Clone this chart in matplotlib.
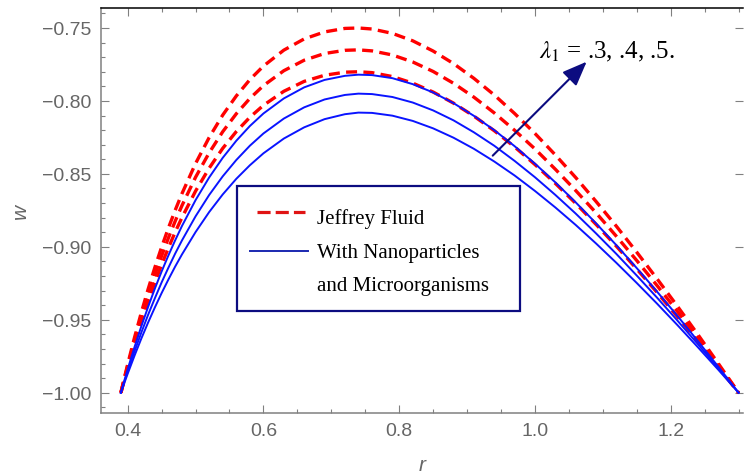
import matplotlib
matplotlib.use("Agg")
import matplotlib.pyplot as plt
from matplotlib.patches import Rectangle
from matplotlib.ticker import MultipleLocator, FuncFormatter

# ---------------- data ----------------
r = [0.39, 0.395, 0.40, 0.41, 0.42, 0.43, 0.44, 0.45, 0.46, 0.47, 0.48, 0.50, 0.52,
     0.54, 0.56, 0.58, 0.60, 0.63, 0.66, 0.69, 0.72, 0.74, 0.76, 0.79, 0.82, 0.85,
     0.88, 0.91, 0.94, 0.97, 1.00, 1.03, 1.06, 1.09, 1.12, 1.15, 1.18, 1.21, 1.24,
     1.27, 1.30]

# Jeffrey fluid, lambda1 = .3, .4, .5 (red dashed)
jeffrey_1 = [-1.0000, -0.9901, -0.9805, -0.9623, -0.9452, -0.9292, -0.9142, -0.9002,
             -0.8871, -0.8749, -0.8635, -0.8429, -0.8251, -0.8097, -0.7966, -0.7854,
             -0.7761, -0.7652, -0.7575, -0.7527, -0.7503, -0.7500, -0.7507, -0.7537,
             -0.7588, -0.7658, -0.7744, -0.7845, -0.7959, -0.8086, -0.8223, -0.8370,
             -0.8525, -0.8689, -0.8859, -0.9037, -0.9220, -0.9408, -0.9601, -0.9799,
             -1.0000]
jeffrey_2 = [-1.0000, -0.9907, -0.9817, -0.9645, -0.9485, -0.9334, -0.9194, -0.9062,
             -0.8939, -0.8824, -0.8717, -0.8523, -0.8356, -0.8211, -0.8088, -0.7983,
             -0.7895, -0.7793, -0.7721, -0.7675, -0.7653, -0.7650, -0.7657, -0.7685,
             -0.7733, -0.7798, -0.7879, -0.7974, -0.8082, -0.8201, -0.8329, -0.8468,
             -0.8614, -0.8767, -0.8928, -0.9094, -0.9266, -0.9443, -0.9625, -0.9811,
             -1.0000]
jeffrey_3 = [-1.0000, -0.9913, -0.9828, -0.9668, -0.9518, -0.9377, -0.9245, -0.9122,
             -0.9007, -0.8899, -0.8799, -0.8618, -0.8461, -0.8325, -0.8210, -0.8112,
             -0.8030, -0.7934, -0.7866, -0.7824, -0.7803, -0.7800, -0.7806, -0.7833,
             -0.7878, -0.7939, -0.8015, -0.8104, -0.8204, -0.8315, -0.8436, -0.8565,
             -0.8702, -0.8846, -0.8996, -0.9152, -0.9313, -0.9479, -0.9649, -0.9823,
             -1.0000]

# With nanoparticles and microorganisms (blue solid)
nano_1 = [-1.0000, -0.9918, -0.9839, -0.9688, -0.9546, -0.9413, -0.9287, -0.9169,
          -0.9059, -0.8955, -0.8857, -0.8680, -0.8525, -0.8390, -0.8273, -0.8172,
          -0.8086, -0.7983, -0.7907, -0.7856, -0.7828, -0.7820, -0.7823, -0.7844,
          -0.7885, -0.7942, -0.8015, -0.8102, -0.8200, -0.8310, -0.8430, -0.8558,
          -0.8695, -0.8839, -0.8989, -0.9146, -0.9308, -0.9474, -0.9646, -0.9821,
          -1.0000]
nano_2 = [-1.0000, -0.9926, -0.9855, -0.9718, -0.9589, -0.9467, -0.9353, -0.9244,
          -0.9143, -0.9046, -0.8956, -0.8791, -0.8645, -0.8517, -0.8405, -0.8307,
          -0.8223, -0.8121, -0.8044, -0.7990, -0.7959, -0.7950, -0.7953, -0.7973,
          -0.8011, -0.8065, -0.8133, -0.8215, -0.8307, -0.8411, -0.8523, -0.8644,
          -0.8772, -0.8908, -0.9049, -0.9197, -0.9349, -0.9506, -0.9667, -0.9832,
          -1.0000]
nano_3 = [-1.0000, -0.9934, -0.9870, -0.9747, -0.9630, -0.9520, -0.9416, -0.9317,
          -0.9224, -0.9135, -0.9052, -0.8899, -0.8762, -0.8641, -0.8534, -0.8441,
          -0.8359, -0.8258, -0.8181, -0.8125, -0.8091, -0.8080, -0.8082, -0.8101,
          -0.8137, -0.8188, -0.8252, -0.8328, -0.8415, -0.8511, -0.8617, -0.8730,
          -0.8850, -0.8977, -0.9110, -0.9248, -0.9390, -0.9537, -0.9688, -0.9842,
          -1.0000]

legend_labels = ["Jeffrey Fluid", "With Nanoparticles", "and Microorganisms"]
annotation_text = r"$\lambda_1$ = .3, .4, .5."
x_label = "r"
y_label = "w"

# ---------------- styling ----------------
RED = "#ff0000"
BLUE = "#0a14ff"
NAVY = "#0c0c80"
GRAY = "#808080"
LABEL_GRAY = "#666666"

plt.rcParams["mathtext.fontset"] = "stix"

fig = plt.figure(figsize=(7.44, 4.77), dpi=100)
ax = fig.add_axes([101 / 744, (477 - 413.7) / 477, 642 / 744, 404.7 / 477])

for y in (jeffrey_1, jeffrey_2, jeffrey_3):
    ax.plot(r, y, color=RED, lw=2.4, linestyle=(0, (3.3, 1.9)),
            dash_capstyle="butt", dash_joinstyle="round")
for y in (nano_1, nano_2, nano_3):
    ax.plot(r, y, color=BLUE, lw=1.4)

ax.set_xlim(0.3607, 1.3065)
ax.set_ylim(-1.0137, -0.7363)


def _fmt(decimals):
    return FuncFormatter(lambda v, p: f"{v:.{decimals}f}".replace("-", "\u2212"))


ax.xaxis.set_major_locator(MultipleLocator(0.2))
ax.xaxis.set_minor_locator(MultipleLocator(0.05))
ax.yaxis.set_major_locator(MultipleLocator(0.05))
ax.yaxis.set_minor_locator(MultipleLocator(0.01))
ax.xaxis.set_major_formatter(_fmt(1))
ax.yaxis.set_major_formatter(_fmt(2))

for side in ("left", "bottom"):
    ax.spines[side].set_color(GRAY)
    ax.spines[side].set_linewidth(1.1)
ax.spines["top"].set_color("black")
ax.spines["top"].set_linewidth(1.1)
ax.spines["right"].set_visible(False)

ax.tick_params(which="major", direction="in", length=5.5, width=0.8, color=GRAY,
               labelcolor=LABEL_GRAY, labelsize=14, pad=7,
               top=True, right=True)
ax.tick_params(which="minor", direction="in", length=3, width=0.8, color=GRAY,
               top=True, right=False)
for lab in ax.get_xticklabels() + ax.get_yticklabels():
    lab.set_fontfamily("Liberation Sans")

ax.set_xlabel(x_label, fontsize=15, style="italic", color=LABEL_GRAY,
              fontfamily="Liberation Sans", va="baseline")
ax.set_ylabel(y_label, fontsize=15, style="italic", color=LABEL_GRAY,
              fontfamily="Liberation Sans", va="center")
ax.xaxis.set_label_coords(0.5, -0.1405)
ax.yaxis.set_label_coords(-0.126, 0.5)

# ---------------- legend box (drawn in axes coordinates) ----------------
ax.add_patch(Rectangle((0.2123, 0.2520), 0.4403, 0.3074, transform=ax.transAxes,
                       facecolor="white", edgecolor=NAVY, lw=1.6, zorder=5))
ax.plot([0.2425, 0.3178], [0.4952, 0.4952], transform=ax.transAxes, color="#e01414",
        lw=2.3, linestyle=(0, (4.1, 1.6)), zorder=6)
ax.plot([0.2321, 0.3224], [0.4003, 0.4003], transform=ax.transAxes, color="#1a28b0",
        lw=1.4, zorder=6)
for txt, yb in zip(legend_labels, (0.4680, 0.3840, 0.3039)):
    ax.text(0.3364, yb, txt, transform=ax.transAxes, fontsize=15,
            fontfamily="Liberation Serif", color="black", va="baseline",
            ha="left", zorder=7)

# ---------------- arrow and annotation ----------------
ax.annotate("", xy=(1.0762, -0.7731), xytext=(0.9378, -0.8375),
            arrowprops=dict(arrowstyle="-|>,head_length=0.75,head_width=0.3",
                            color=NAVY, lw=1.5, mutation_scale=20,
                            shrinkA=0, shrinkB=0), zorder=8)
ax.text(1.006, -0.7701, annotation_text, fontsize=18,
        fontfamily="Liberation Serif", color="black", va="baseline", ha="left",
        zorder=8)

fig.savefig("out.png", dpi=100)
